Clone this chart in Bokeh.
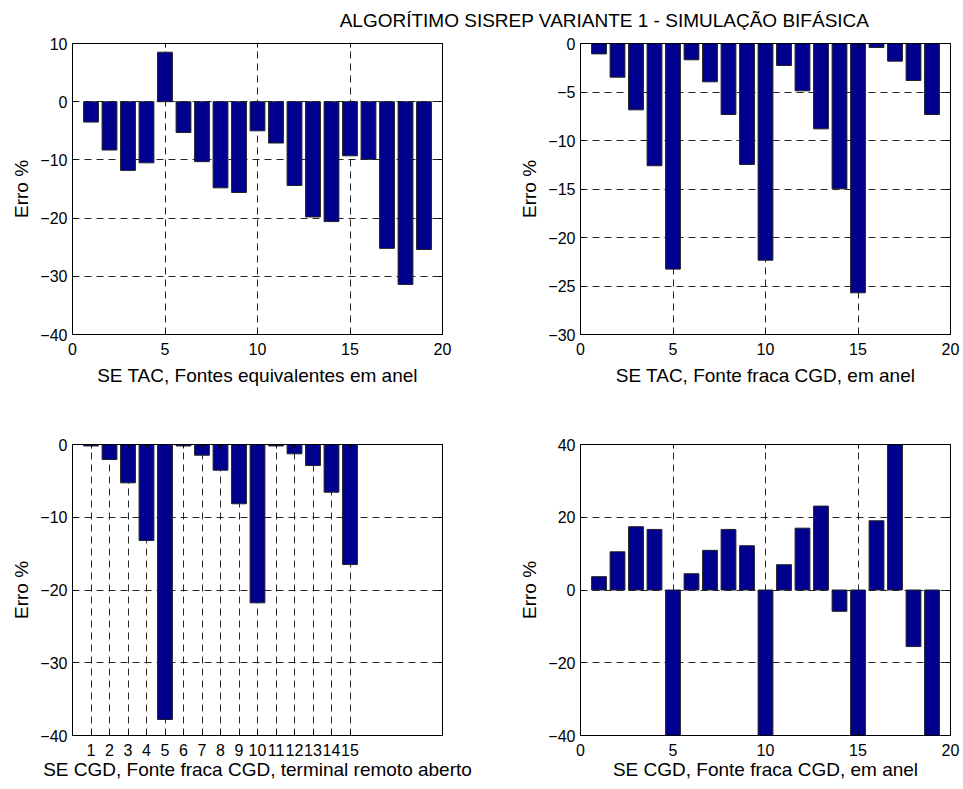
from bokeh.plotting import figure
from bokeh.layouts import column, row
from bokeh.models import Range1d, LinearAxis, FixedTicker, Label
from bokeh.embed import file_html
from bokeh.resources import INLINE

# ---------------- data ----------------
idx19 = list(range(1, 20))
idx15 = list(range(1, 16))

tac_equiv = [-3.5, -8.3, -11.8, -10.5, 8.5, -5.3, -10.3, -14.8, -15.6, -5.0,
             -7.1, -14.4, -19.8, -20.6, -9.3, -9.9, -25.2, -31.4, -25.4]
tac_fraca = [-1.07, -3.47, -6.84, -12.6, -23.26, -1.68, -3.95, -7.32, -12.47, -22.34,
             -2.27, -4.88, -8.8, -14.98, -25.7, -0.41, -1.82, -3.81, -7.32]
cgd_aberto = [-0.2, -2.06, -5.27, -13.2, -37.8, -0.2, -1.47, -3.53, -8.15, -21.76,
              -0.2, -1.28, -2.89, -6.55, -16.5]
cgd_anel = [3.66, 10.5, 17.4, 16.65, -47.0, 4.48, 10.9, 16.65, 12.17, -46.0,
            6.95, 17.0, 23.06, -5.86, -48.0, 19.03, 44.0, -15.55, -45.0]

xticks_std = [0, 5, 10, 15, 20]
yticks_tl = [-40, -30, -20, -10, 0, 10]
yticks_tr = [-30, -25, -20, -15, -10, -5, 0]
yticks_b = [-40, -30, -20, -10, 0]
yticks_br = [-40, -20, 0, 20, 40]

title_text = "ALGORÍTIMO SISREP VARIANTE 1 - SIMULAÇÃO BIFÁSICA"
ylab = "Erro %"
xlab_tl = "SE TAC, Fontes equivalentes em anel"
xlab_tr = "SE TAC, Fonte fraca CGD, em anel"
xlab_bl = "SE CGD, Fonte fraca CGD, terminal remoto aberto"
xlab_br = "SE CGD, Fonte fraca CGD, em anel"

FONT = "Liberation Sans"
BAR = "#00008F"


def panel(xs, ys, yr, yticks, xticks, xlabel, width, height, left, right, top, bottom,
          xlab_standoff):
    p = figure(width=width, height=height, x_range=Range1d(0, 20),
               y_range=Range1d(*yr), output_backend="svg", toolbar_location=None,
               min_border_left=left, min_border_right=right,
               min_border_top=top, min_border_bottom=bottom,
               x_axis_label=xlabel, y_axis_label=ylab)
    p.vbar(x=xs, top=ys, bottom=0, width=0.8, fill_color=BAR,
           line_color="#202020", line_width=1)
    p.outline_line_color = "black"
    p.outline_line_width = 1
    p.background_fill_color = "white"
    p.border_fill_color = "white"

    for ax, tk in ((p.xaxis[0], xticks), (p.yaxis[0], yticks)):
        ax.ticker = FixedTicker(ticks=tk)
        ax.major_tick_in = 4
        ax.major_tick_out = 0
        ax.minor_tick_line_color = None
        ax.axis_line_color = "black"
        ax.major_tick_line_color = "black"
        ax.major_label_text_font = FONT
        ax.major_label_text_font_size = "16px"
        ax.major_label_text_color = "black"
        ax.axis_label_text_font = FONT
        ax.axis_label_text_font_size = "19px"
        ax.axis_label_text_font_style = "normal"
        ax.axis_label_text_color = "black"
    p.xaxis[0].major_label_standoff = 8
    p.xaxis[0].axis_label_standoff = xlab_standoff
    p.yaxis[0].major_label_standoff = 5
    p.yaxis[0].axis_label_standoff = 5

    p.xgrid.ticker = FixedTicker(ticks=xticks)
    p.ygrid.ticker = FixedTicker(ticks=yticks)
    for g in (p.xgrid[0], p.ygrid[0]):
        g.grid_line_color = "black"
        g.grid_line_dash = "7 5"
        g.grid_line_width = 1
        g.grid_line_alpha = 0.85

    # inward ticks on the top and right edges (box on), no labels drawn
    for tk, side in ((xticks, "above"), (yticks, "right")):
        ax = LinearAxis(ticker=FixedTicker(ticks=tk), major_tick_in=4, major_tick_out=0,
                        minor_tick_line_color=None, axis_line_color="black",
                        major_label_text_color=None, major_label_text_font_size="1px",
                        major_label_standoff=0)
        p.add_layout(ax, side)
    return p


W1, W2 = 500, 463
H_TOP, H_BOT = 370, 389

tl = panel(idx19, tac_equiv, (-40, 10), yticks_tl, xticks_std, xlab_tl,
           W1, H_TOP, 72, W1 - 442, 13, H_TOP - 13 - 291, 7)
tr = panel(idx19, tac_fraca, (-30, 0), yticks_tr, xticks_std, xlab_tr,
           W2, H_TOP, 580 - W1, 13, 13, H_TOP - 13 - 291, 7)
bl = panel(idx15, cgd_aberto, (-40, 0), yticks_b, idx15, xlab_bl,
           W1, H_BOT, 72, W1 - 442, 44, H_BOT - 44 - 291, 0)
br = panel(idx19, cgd_anel, (-40, 40), yticks_br, xticks_std, xlab_br,
           W2, H_BOT, 580 - W1, 13, 44, H_BOT - 44 - 291, 0)

# title strip
tp = figure(width=963, height=30, x_range=Range1d(0, 963), y_range=Range1d(0, 30),
            output_backend="svg", toolbar_location=None, min_border=0)
tp.axis.visible = False
tp.grid.visible = False
tp.outline_line_color = None
tp.add_layout(Label(x=604, y=10, text=title_text, text_align="center",
                    text_baseline="middle", text_font=FONT, text_font_size="19px",
                    text_color="black"))

layout = column(tp, row(tl, tr), row(bl, br))

open("out.html", "w").write(file_html(layout, INLINE))
